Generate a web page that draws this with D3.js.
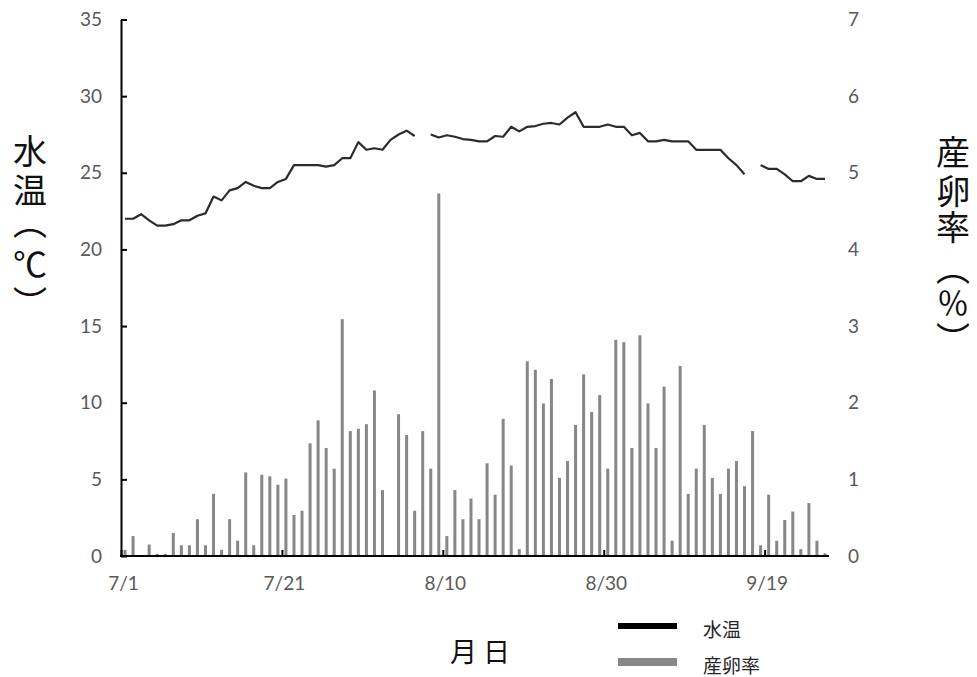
<!DOCTYPE html>
<html>
<head>
<meta charset="utf-8">
<script src="https://cdn.jsdelivr.net/npm/d3@7"></script>
<style>
  body { margin: 0; background: #fff; }
  svg { display: block; }
</style>
</head>
<body>
<svg id="chart" width="977" height="677"></svg>
<script>
// Daily observations, 7/1 onward
const startDay = new Date(2000, 6, 1);
const dayCount = 88;

// Water temperature (°C); null = no measurement that day
const waterTemp = [
  22.0, 22.0, 22.3, 21.9, 21.55, 21.55, 21.65, 21.9, 21.9, 22.2,
  22.35, 23.45, 23.2, 23.85, 24.0, 24.4, 24.15, 24.0, 24.0, 24.4,
  24.6, 25.5, 25.5, 25.5, 25.5, 25.4, 25.5, 25.95, 25.95, 27.0,
  26.5, 26.6, 26.5, 27.15, 27.5, 27.75, 27.4, null, 27.5, 27.3,
  27.45, 27.35, 27.2, 27.15, 27.05, 27.05, 27.4, 27.35, 28.0, 27.7,
  28.0, 28.05, 28.2, 28.25, 28.15, 28.6, 28.95, 28.0, 28.0, 28.0,
  28.15, 28.0, 28.0, 27.45, 27.6, 27.05, 27.05, 27.15, 27.05, 27.05,
  27.05, 26.5, 26.5, 26.5, 26.5, 25.95, 25.5, 24.9, null, 25.5,
  25.25, 25.25, 24.9, 24.45, 24.45, 24.8, 24.6, 24.6
];

// Spawning rate (%)
const spawnRate = [
  0.08, 0.26, 0, 0.15, 0.03, 0.03, 0.30, 0.14, 0.14, 0.48,
  0.14, 0.81, 0.08, 0.48, 0.20, 1.09, 0.14, 1.06, 1.04, 0.93,
  1.01, 0.535, 0.59, 1.47, 1.77, 1.41, 1.14, 3.09, 1.63, 1.66,
  1.72, 2.16, 0.86, 0, 1.85, 1.58, 0.59, 1.63, 1.14, 4.73,
  0.26, 0.86, 0.48, 0.75, 0.48, 1.21, 0.80, 1.79, 1.18, 0.09,
  2.54, 2.43, 1.99, 2.31, 1.02, 1.24, 1.71, 2.37, 1.88, 2.10,
  1.14, 2.82, 2.79, 1.41, 2.88, 1.99, 1.41, 2.21, 0.20, 2.48,
  0.81, 1.14, 1.71, 1.02, 0.81, 1.14, 1.24, 0.91, 1.63, 0.14,
  0.80, 0.20, 0.47, 0.58, 0.09, 0.69, 0.20, 0.035
];

const tempTicks = [0, 5, 10, 15, 20, 25, 30, 35];
const rateTicks = [0, 1, 2, 3, 4, 5, 6, 7];
const dateLabelEvery = 20;

const fmtDay = d => `${d.getMonth() + 1}/${d.getDate()}`;
const days = d3.timeDay
  .range(startDay, d3.timeDay.offset(startDay, dayCount))
  .map(fmtDay);
const labelDays = days.filter((d, i) => i % dateLabelEvery === 0);

const svg = d3.select("#chart");
const plotLeft = 121, plotRight = 829, plotBottom = 556, plotTop = 19.5;

const x = d3.scaleBand().domain(days).range([plotLeft, plotRight]).padding(0);
const xMid = d => x(d) + x.bandwidth() / 2;
const yT = d3.scaleLinear().domain([0, 35]).range([plotBottom, plotTop]);
const yR = d3.scaleLinear().domain([0, 7]).range([plotBottom, plotTop]);

const tickFont = "Lato, 'Open Sans', sans-serif";
const cjkFont = "'Noto Sans CJK JP', 'Noto Sans CJK SC', sans-serif";

svg.append("rect").attr("width", 977).attr("height", 677).attr("fill", "#fff");

// Spawning-rate bars (right axis)
svg.append("g")
  .selectAll("rect")
  .data(days.map((d, i) => ({ d, v: spawnRate[i] })).filter(o => o.v > 0))
  .join("rect")
  .attr("x", o => xMid(o.d) - 1.5)
  .attr("width", 3)
  .attr("y", o => yR(o.v))
  .attr("height", o => yR(0) - yR(o.v))
  .attr("fill", "#878787");

// Water-temperature line (left axis)
const tempLine = d3.line()
  .defined(o => o.t != null)
  .x(o => xMid(o.d))
  .y(o => yT(o.t));
svg.append("path")
  .datum(days.map((d, i) => ({ d, t: waterTemp[i] })))
  .attr("d", tempLine)
  .attr("fill", "none")
  .attr("stroke", "#2b2b2b")
  .attr("stroke-width", 2.2)
  .attr("stroke-linejoin", "round");

// Left axis
const gL = svg.append("g")
  .attr("transform", `translate(${plotLeft},0)`)
  .call(d3.axisLeft(yT).tickValues(tempTicks).tickFormat(d3.format("d"))
    .tickSizeInner(-6).tickSizeOuter(0).tickPadding(19));
gL.select(".domain").attr("stroke", "#000").attr("stroke-width", 2);
gL.selectAll(".tick line").attr("stroke", "#000").attr("stroke-width", 2);
gL.selectAll("text").attr("font-family", tickFont).attr("font-size", 19).attr("fill", "#595959");

// Right axis (labels only)
const gR = svg.append("g")
  .attr("transform", `translate(${plotRight},0)`)
  .call(d3.axisRight(yR).tickValues(rateTicks).tickFormat(d3.format("d"))
    .tickSize(0).tickPadding(19));
gR.select(".domain").remove();
gR.selectAll("text").attr("font-family", tickFont).attr("font-size", 19).attr("fill", "#595959");

// Bottom axis: ticks sit on the left edge of each labelled day
const xEdge = d3.scaleOrdinal().domain(days).range(days.map(d => x(d)));
const gB = svg.append("g")
  .attr("transform", `translate(0,${plotBottom})`)
  .call(d3.axisBottom(xEdge).tickValues(labelDays).tickSizeInner(-6).tickSizeOuter(0).tickPadding(21));
gB.select(".domain").remove();
gB.append("line")
  .attr("x1", plotLeft - 1).attr("x2", plotRight)
  .attr("stroke", "#000").attr("stroke-width", 2);
gB.selectAll(".tick line").attr("stroke", "#000").attr("stroke-width", 2);
gB.selectAll("text").attr("font-family", tickFont).attr("font-size", 19)
  .attr("fill", "#595959").attr("dx", 2);

// Axis titles, one glyph per line. Each glyph is placed by the centre of its
// ink (measured on a canvas), so vertical-form brackets sit where intended.
const measureCtx = document.createElement("canvas").getContext("2d");
function inkShift(ch, size) {
  measureCtx.font = `${size}px ${cjkFont}`;
  measureCtx.textAlign = "center";
  measureCtx.textBaseline = "alphabetic";
  const m = measureCtx.measureText(ch);
  return {
    dx: (m.actualBoundingBoxRight - m.actualBoundingBoxLeft) / 2,
    dy: (m.actualBoundingBoxDescent - m.actualBoundingBoxAscent) / 2
  };
}
function verticalTitle(cx, glyphs) {
  svg.append("text")
    .attr("text-anchor", "middle")
    .attr("font-family", cjkFont)
    .attr("fill", "#111")
    .selectAll("tspan")
    .data(glyphs)
    .join("tspan")
    .each(function (g) {
      const size = g.size || 34;
      const s = inkShift(g.c, size);
      d3.select(this)
        .attr("x", cx - s.dx)
        .attr("y", g.y - s.dy)
        .attr("font-size", size);
    })
    .text(g => g.c);
}
verticalTitle(30, [
  { c: "水", y: 151 }, { c: "温", y: 190 },
  { c: "︵", y: 233.5 }, { c: "℃", y: 264 }, { c: "︶", y: 291 }
]);
verticalTitle(953, [
  { c: "産", y: 151.5 }, { c: "卵", y: 191 }, { c: "率", y: 227.5 },
  { c: "︵", y: 279 }, { c: "％", y: 303, size: 32 }, { c: "︶", y: 327.5 }
]);

svg.append("text")
  .attr("x", 480).attr("y", 650)
  .attr("text-anchor", "middle").attr("dominant-baseline", "central")
  .attr("font-family", cjkFont).attr("font-size", 27).attr("fill", "#111")
  .text("月 日");

// Legend
const legendItems = [
  { name: "水温", color: "#000", width: 6, y: 626 },
  { name: "産卵率", color: "#878787", width: 8, y: 662 }
];
const lg = svg.append("g").selectAll("g").data(legendItems).join("g");
lg.append("line")
  .attr("x1", 618).attr("x2", 677)
  .attr("y1", o => o.y).attr("y2", o => o.y)
  .attr("stroke", o => o.color).attr("stroke-width", o => o.width);
lg.append("text")
  .attr("x", 703).attr("y", o => o.y + 2)
  .attr("dominant-baseline", "central")
  .attr("font-family", cjkFont).attr("font-size", 19).attr("fill", "#262626")
  .text(o => o.name);
</script>
</body>
</html>
